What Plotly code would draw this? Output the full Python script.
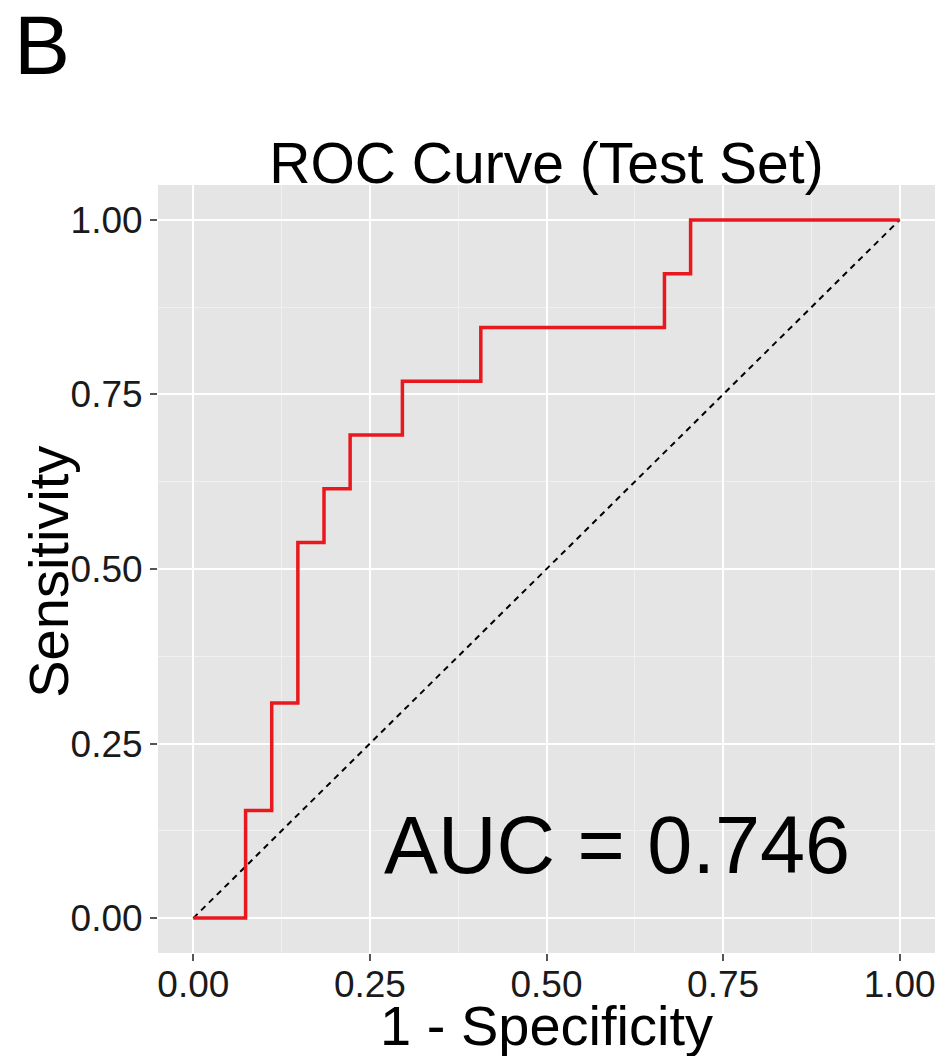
import plotly.graph_objects as go

fpr = [0.0, 0.074, 0.111, 0.148, 0.185, 0.222, 0.296, 0.407, 0.667, 0.704, 1.0]
tpr = [0.0, 0.154, 0.308, 0.538, 0.615, 0.692, 0.769, 0.846, 0.923, 1.0, 1.0]
diag_x = [0.0, 1.0]
diag_y = [0.0, 1.0]
tick_vals = [0.0, 0.25, 0.5, 0.75, 1.0]
tick_text = ["0.00", "0.25", "0.50", "0.75", "1.00"]
auc_label = "AUC = 0.746"
x_title = "1 - Specificity"
y_title = "Sensitivity"

FONT = "Liberation Sans, Arial, sans-serif"

fig = go.Figure()
fig.add_trace(go.Scatter(x=diag_x, y=diag_y, mode="lines",
                         line=dict(color="black", width=2, dash="6px,5px"),
                         showlegend=False, hoverinfo="skip"))
fig.add_trace(go.Scatter(x=fpr, y=tpr, mode="lines", line_shape="hv",
                         line=dict(color="#E8191E", width=3.5),
                         showlegend=False))

fig.add_annotation(x=0.6, y=0.105, xref="x", yref="y", text=auc_label,
                   showarrow=False, font=dict(family=FONT, size=81, color="black"))
fig.add_annotation(x=-0.188, y=1.182, xref="paper", yref="paper", text="B",
                   xanchor="left", yanchor="middle",
                   showarrow=False, font=dict(family=FONT, size=84, color="black"))
fig.add_annotation(x=0.5, y=-0.094, xref="paper", yref="paper", text=x_title,
                   xanchor="center", yanchor="middle",
                   showarrow=False, font=dict(family=FONT, size=56, color="black"))
fig.add_annotation(x=-0.142, y=0.496, xref="paper", yref="paper", text=y_title,
                   xanchor="center", yanchor="middle", textangle=-90,
                   showarrow=False, font=dict(family=FONT, size=56, color="black"))

axis_common = dict(
    range=[-0.05, 1.05], tickvals=tick_vals, ticktext=tick_text,
    showgrid=True, gridcolor="white", gridwidth=2.2,
    ticks="outside", ticklen=7, tickwidth=2, tickcolor="#555555",
    tickfont=dict(family=FONT, size=37, color="#1a1a1a"),
    zeroline=False, showline=False, automargin=False,
    minor=dict(tickvals=[0.125, 0.375, 0.625, 0.875], showgrid=True,
               gridcolor="#F0F0F0", gridwidth=1, ticks=""),
)

fig.update_xaxes(**axis_common, ticklabelstandoff=-8)
fig.update_yaxes(**axis_common)

fig.update_layout(
    width=943, height=1056,
    margin=dict(l=158, r=8, t=185, b=103),
    plot_bgcolor="#E5E5E5", paper_bgcolor="white",
    title=dict(text="ROC Curve (Test Set)", x=0.5, xanchor="center", xref="paper",
               y=1.0, yref="paper", yanchor="bottom", pad=dict(b=2),
               font=dict(family=FONT, size=57, color="black")),
)

fig.write_html("out.html")
